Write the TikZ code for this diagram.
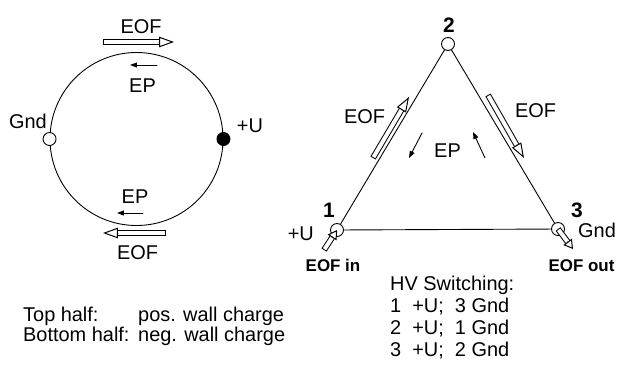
\documentclass[tikz,border=0pt]{standalone}
\usepackage{fontspec}
\setmainfont{Liberation Sans}
\usetikzlibrary{arrows.meta,calc,positioning}
\tikzset{
 chip/.style={line cap=round,line join=round,x=1bp,y=-1bp},
 wall/.style={draw,line width=.9pt},
 ring/.style={circle,wall,inner sep=0pt,minimum size=173bp},
 port/.style={circle,draw,fill=white,line width=.9pt,inner sep=0pt,minimum size=13bp},
 portOn/.style={port,fill=black},
 lbl/.style={font=\fontsize{20}{24}\selectfont,inner sep=0pt,anchor=base},
 num/.style={font=\fontsize{21}{25}\selectfont\bfseries,inner sep=0pt,anchor=base},
 io/.style={font=\fontsize{17}{20}\selectfont\bfseries,inner sep=0pt,anchor=base},
 epflow/.style={line width=.9pt,-{Triangle[length=7pt,width=5pt]}}
}
% hollow block arrow, optional arg = head length
\newcommand{\hollowArrow}[3][15pt]{%
 \pgfmathsetlengthmacro\hA{#1-1pt}\pgfmathsetlengthmacro\hB{#1-2pt}%
 \draw[line width=6pt,line cap=butt,shorten >=\hA] (#2)--(#3);
 \draw[white,line width=4pt,line cap=butt,shorten >=\hB,shorten <=1pt] (#2)--(#3);
 \draw[line width=1pt,-{Triangle[open,fill=white,length=#1,width=10.5pt]}] ($(#3)!#1!(#2)$)--(#3);}

\begin{document}
\begin{tikzpicture}[chip]
 \useasboundingbox (0,0) rectangle (618,367);
 % ring channel
 \node[ring] (ring) at (136.5,139) {};
 \node[port] (gnd) at (ring.west) {};
 \node[portOn] (plus) at (ring.east) {};
 \node[lbl] (gndL) at (28,128) {Gnd};
 \node[lbl] (plusL) at (250,132) {+U};
 \hollowArrow{103,42}{174,42}
 \node[lbl] (eofA) at (141,33) {EOF};
 \draw[epflow] (157,65)--(130,65);
 \node[lbl] (epA) at (142.5,92) {EP};
 \node[lbl] (epB) at (135,203) {EP};
 \draw[epflow] (143,213)--(117,213);
 \hollowArrow{166,233}{103,233}
 \node[lbl] (eofB) at (137.5,259) {EOF};
 \node[lbl,anchor=base west] (topL) at (23,321) {Top half:};
 \node[lbl,anchor=base west] (topR) at (138,321) {pos. wall charge};
 \node[lbl,anchor=base west] (botL) at (23,341) {Bottom half:};
 \node[lbl,anchor=base west] (botR) at (138,341) {neg. wall charge};
 % triangle channel
 \node[port] (t1) at (337,230) {};
 \node[port] (t2) at (448,44) {};
 \node[port] (t3) at (558,229) {};
 \draw[wall] (t1)--(t2)--(t3)--(t1);
 \node[num] (n1) at (329,217) {1};
 \node[num] (n2) at (449,32) {2};
 \node[num] (n3) at (577,217) {3};
 \node[lbl,anchor=base east] (t1L) at (314,240) {+U};
 \node[lbl,anchor=base west] (t3L) at (578,237) {Gnd};
 \hollowArrow{373,158}{409,97}
 \hollowArrow{488,95}{524,158}
 \node[lbl] (eofL) at (364.5,123) {EOF};
 \node[lbl] (eofR) at (535.5,117) {EOF};
 \draw[epflow] (422,133)--(409,158);
 \draw[epflow] (485,158)--(473,132);
 \node[lbl] (epT) at (447.5,157) {EP};
 \hollowArrow[9pt]{324,250}{t1.center}
 \hollowArrow[9pt]{t3.center}{573,249}
 \node[io] (inL) at (333,271) {EOF in};
 \node[io] (outL) at (581.5,271) {EOF out};
 \node[lbl,anchor=base west] (hv0) at (390,290) {HV Switching:};
 \node[lbl,anchor=base west] (hv1) at (390,312) {1\ \ +U;\ \ 3 Gnd};
 \node[lbl,anchor=base west] (hv2) at (390,334) {2\ \ +U;\ \ 1 Gnd};
 \node[lbl,anchor=base west] (hv3) at (390,356) {3\ \ +U;\ \ 2 Gnd};
\end{tikzpicture}
\end{document}
